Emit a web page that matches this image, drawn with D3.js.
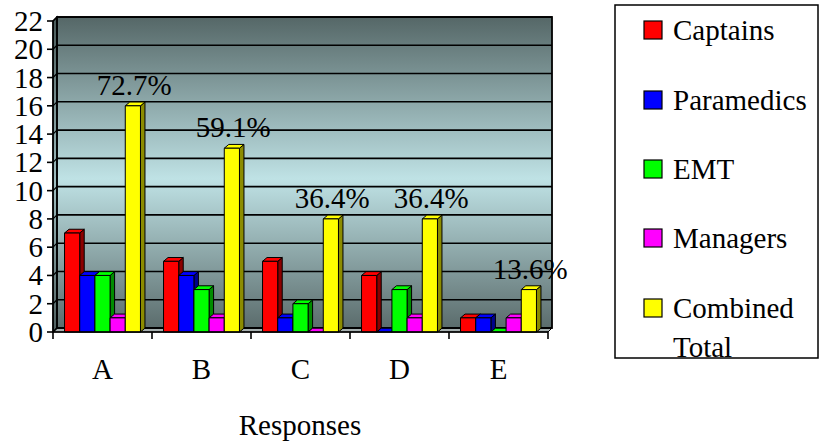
<!DOCTYPE html>
<html>
<head>
<meta charset="utf-8">
<script src="https://cdn.jsdelivr.net/npm/d3@7"></script>
<style>
  html, body { margin: 0; padding: 0; background: #fff; }
  svg { display: block; }
  text { font-family: "Liberation Serif", "Times New Roman", serif; fill: #000; }
</style>
</head>
<body>
<svg id="chart" width="820" height="445"></svg>
<script>
// Survey responses by group
const categories = ["A", "B", "C", "D", "E"];
const seriesNames = ["Captains", "Paramedics", "EMT", "Managers", "Combined Total"];
const captains   = [7, 5, 5, 4, 1];
const paramedics = [4, 4, 1, 0, 1];
const emt        = [4, 3, 2, 3, 0];
const managers   = [1, 1, 0, 1, 1];
const combined   = [16, 13, 8, 8, 3];
const totalLabels = ["72.7%", "59.1%", "36.4%", "36.4%", "13.6%"];
const yTicks = [0, 2, 4, 6, 8, 10, 12, 14, 16, 18, 20, 22];
const axisTitle = "Responses";

const seriesValues = [captains, paramedics, emt, managers, combined];
const colors = ["#ff0000", "#0000ff", "#00ff00", "#ff00ff", "#ffff00"];
const sideColors = ["#8c0000", "#00008c", "#008c00", "#8c008c", "#8c8c00"];

const svg = d3.select("#chart");
const FONT = 29;

// front plane of the plot
const x0 = 53, x1 = 548, yBase = 332, yTop = 21;
// depth offset of the back wall
const wdx = 4, wdy = -4;
// depth of the columns
const bdx = 4.5, bdy = -3.8;

const y = d3.scaleLinear().domain([0, 22]).range([yBase, yTop]);
const x = d3.scaleBand().domain(categories).range([x0, x1]).paddingInner(0).paddingOuter(0);
const xs = d3.scaleBand().domain(seriesNames).range([0, x.bandwidth()]).paddingInner(0).paddingOuter(0.76);

// wall gradient
const defs = svg.append("defs");
const grad = defs.append("linearGradient")
  .attr("id", "wallGrad")
  .attr("gradientUnits", "userSpaceOnUse")
  .attr("x1", 0).attr("y1", y(22) + wdy)
  .attr("x2", 0).attr("y2", y(0) + wdy);
grad.append("stop").attr("offset", "0%").attr("stop-color", "#556767");
grad.append("stop").attr("offset", "52%").attr("stop-color", "#bfe2e5");
grad.append("stop").attr("offset", "100%").attr("stop-color", "#5b6c6c");

const sideGrad = defs.append("linearGradient")
  .attr("id", "sideGrad")
  .attr("gradientUnits", "userSpaceOnUse")
  .attr("x1", 0).attr("y1", y(22))
  .attr("x2", 0).attr("y2", y(0));
sideGrad.append("stop").attr("offset", "0%").attr("stop-color", "#4a5a5a");
sideGrad.append("stop").attr("offset", "52%").attr("stop-color", "#9fbfc2");
sideGrad.append("stop").attr("offset", "100%").attr("stop-color", "#4e5e5e");

const poly = pts => "M" + pts.map(p => p.join(",")).join("L") + "Z";

// back wall
svg.append("rect")
  .attr("x", x0 + wdx).attr("y", y(22) + wdy)
  .attr("width", x1 - x0).attr("height", y(0) - y(22))
  .attr("fill", "url(#wallGrad)");

// side wall
svg.append("path")
  .attr("d", poly([[x0, y(22)], [x0 + wdx, y(22) + wdy], [x0 + wdx, y(0) + wdy], [x0, y(0)]]))
  .attr("fill", "url(#sideGrad)");

// floor
svg.append("path")
  .attr("d", poly([[x0, y(0)], [x0 + wdx, y(0) + wdy], [x1 + wdx, y(0) + wdy], [x1, y(0)]]))
  .attr("fill", "#a7b0b0")
  .attr("stroke", "#000").attr("stroke-width", 1);

// gridlines on the wall and side wall
const grid = svg.append("g");
yTicks.forEach(t => {
  grid.append("line")
    .attr("x1", x0 + wdx).attr("x2", x1 + wdx)
    .attr("y1", y(t) + wdy).attr("y2", y(t) + wdy)
    .attr("stroke", "#000").attr("stroke-width", 1.6);
  grid.append("line")
    .attr("x1", x0).attr("x2", x0 + wdx)
    .attr("y1", y(t)).attr("y2", y(t) + wdy)
    .attr("stroke", "#000").attr("stroke-width", 1.2);
});

// wall outlines
svg.append("rect")
  .attr("x", x0 + wdx).attr("y", y(22) + wdy)
  .attr("width", x1 - x0).attr("height", y(0) - y(22))
  .attr("fill", "none").attr("stroke", "#000").attr("stroke-width", 1.8);
svg.append("path")
  .attr("d", poly([[x0, y(22)], [x0 + wdx, y(22) + wdy], [x0 + wdx, y(0) + wdy], [x0, y(0)]]))
  .attr("fill", "none").attr("stroke", "#000").attr("stroke-width", 1.2);

// columns, drawn left to right so each front face covers the previous side face
const bars = svg.append("g");
categories.forEach((cat, ci) => {
  seriesNames.forEach((s, si) => {
    const v = seriesValues[si][ci];
    const bx = x(cat) + xs(s);
    const bw = xs.bandwidth();
    const top = y(v), bot = y(0);
    const g = bars.append("g").attr("stroke", "#000").attr("stroke-width", 1).attr("stroke-linejoin", "round");
    // side face
    g.append("path")
      .attr("d", poly([[bx + bw, top], [bx + bw + bdx, top + bdy], [bx + bw + bdx, bot + bdy], [bx + bw, bot]]))
      .attr("fill", sideColors[si]);
    // top face
    g.append("path")
      .attr("d", poly([[bx, top], [bx + bdx, top + bdy], [bx + bw + bdx, top + bdy], [bx + bw, top]]))
      .attr("fill", colors[si]);
    // front face
    if (v > 0) {
      g.append("rect")
        .attr("x", bx).attr("y", top)
        .attr("width", bw).attr("height", bot - top)
        .attr("fill", colors[si]);
    }
  });
  // percentage label over the combined column
  const cx = x(cat) + xs("Combined Total") + xs.bandwidth() / 2 + bdx / 2;
  svg.append("text")
    .attr("x", cx - 1).attr("y", y(combined[ci]) - 11)
    .attr("text-anchor", "middle")
    .attr("font-size", FONT)
    .text(totalLabels[ci]);
});

// y axis
const yAxis = svg.append("g");
yAxis.append("line")
  .attr("x1", x0).attr("x2", x0).attr("y1", y(0)).attr("y2", y(22))
  .attr("stroke", "#000").attr("stroke-width", 1.6);
yTicks.forEach(t => {
  yAxis.append("line")
    .attr("x1", x0 - 6).attr("x2", x0).attr("y1", y(t)).attr("y2", y(t))
    .attr("stroke", "#000").attr("stroke-width", 1.6);
  yAxis.append("text")
    .attr("x", 43).attr("y", y(t) + 10)
    .attr("text-anchor", "end")
    .attr("font-size", FONT)
    .text(t);
});

// x axis
const xAxis = svg.append("g");
xAxis.append("line")
  .attr("x1", x0).attr("x2", x1).attr("y1", y(0)).attr("y2", y(0))
  .attr("stroke", "#000").attr("stroke-width", 1.6);
categories.concat([null]).forEach((c, i) => {
  const tx = c === null ? x1 : x(c);
  xAxis.append("line")
    .attr("x1", tx).attr("x2", tx).attr("y1", y(0)).attr("y2", y(0) + 7)
    .attr("stroke", "#000").attr("stroke-width", 1.6);
});
categories.forEach(c => {
  xAxis.append("text")
    .attr("x", x(c) + x.bandwidth() / 2).attr("y", 379)
    .attr("text-anchor", "middle")
    .attr("font-size", FONT)
    .text(c);
});

svg.append("text")
  .attr("x", 300).attr("y", 435)
  .attr("text-anchor", "middle")
  .attr("font-size", FONT)
  .text(axisTitle);

// legend
const lg = svg.append("g");
lg.append("rect")
  .attr("x", 615).attr("y", 5).attr("width", 203).attr("height", 353)
  .attr("fill", "#fff").attr("stroke", "#000").attr("stroke-width", 1.5);
const rowY = [30, 100, 169, 238, 308];
seriesNames.forEach((s, i) => {
  lg.append("rect")
    .attr("x", 644).attr("y", rowY[i] - 9).attr("width", 18).attr("height", 18)
    .attr("fill", colors[i]).attr("stroke", "#000").attr("stroke-width", 1.2);
  const words = s === "Combined Total" ? ["Combined", "Total"] : [s];
  words.forEach((w, k) => {
    lg.append("text")
      .attr("x", 673).attr("y", rowY[i] + 10 + k * 39)
      .attr("font-size", FONT)
      .text(w);
  });
});
</script>
</body>
</html>
